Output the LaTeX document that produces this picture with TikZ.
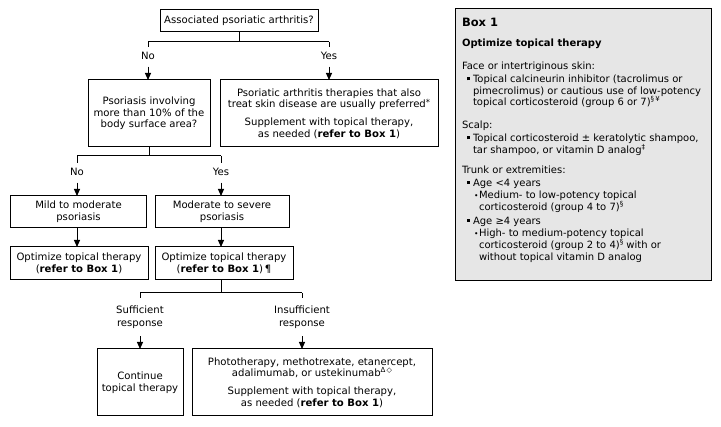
\documentclass[tikz,border=0pt]{standalone}
\usepackage{fontspec}
\setmainfont{DejaVu Sans}
\usetikzlibrary{arrows.meta}
\definecolor{boxgray}{HTML}{E6E6E6}
\newcommand{\supr}[1]{\raisebox{0.42em}{\fontsize{7}{7}\selectfont #1}}
\newcommand{\sqb}{\rule[2.5pt]{3pt}{3pt}}
\newcommand{\dotb}{\raisebox{0.8pt}{\fontsize{7.5}{7.5}\selectfont •}}
\begin{document}
\begin{tikzpicture}[x=1pt,y=-1pt,line width=1pt,
  box/.style={draw,inner sep=0pt,outer sep=0pt,align=center,font=\fontsize{10.1}{11.6}\selectfont},
  lbl/.style={inner xsep=2pt,inner ysep=5pt,outer sep=0pt,align=center,text height=7.5pt,text depth=2pt,font=\fontsize{10.1}{12}\selectfont},
  lbltwo/.style={inner xsep=2pt,inner ysep=8pt,outer sep=0pt,align=center,font=\fontsize{10.1}{12.5}\selectfont},
  arr/.style={-{Triangle[width=6pt,length=7pt]}},
  txt/.style={anchor=base west,inner sep=0pt,outer sep=0pt,font=\fontsize{10}{11.5}\selectfont}]
\useasboundingbox (0,0) rectangle (721,427);

% flowchart boxes
\node[box,minimum width=158pt,minimum height=22pt] (q1) at (239,21) {Associated psoriatic arthritis?};
\node[box,minimum width=122pt,minimum height=67pt] (q2) at (149,113.5) {Psoriasis involving\\more than 10\% of the\\body surface area?};
\node[box,minimum width=218pt,minimum height=67pt] (psa) at (329,113.5) {Psoriatic arthritis therapies that also\\treat skin disease are usually preferred\raisebox{0.25em}{\fontsize{8.5}{8.5}\selectfont *}\\[6pt]Supplement with topical therapy,\\as needed (\textbf{refer to Box 1})};
\node[box,minimum width=136pt,minimum height=32pt] (mild) at (78.5,212) {Mild to moderate\\psoriasis};
\node[box,minimum width=134pt,minimum height=32pt] (mod) at (222,212) {Moderate to severe\\psoriasis};
\node[box,minimum width=138pt,minimum height=33pt] (opt1) at (79,263.5) {Optimize topical therapy\\(\textbf{refer to Box 1})};
\node[box,minimum width=138pt,minimum height=33pt] (opt2) at (224,263.5) {Optimize topical therapy\\(\textbf{refer to Box 1})\,¶};
\node[box,minimum width=86pt,minimum height=67pt] (cont) at (140,382.5) {Continue\\topical therapy};
\node[box,minimum width=240pt,minimum height=67pt] (photo) at (312,382.5) {Phototherapy, methotrexate, etanercept,\\adalimumab, or ustekinumab\supr{Δ\,◇}\\[6pt]Supplement with topical therapy,\\as needed (\textbf{refer to Box 1})};

% first split
\coordinate (j1) at (239,42);
\coordinate (j1l) at (148,42);
\coordinate (j1r) at (329,42);
\draw (q1.south) -- (j1) (j1l) -- (j1r);
\node[lbl] (no1) at (148,57) {No};
\node[lbl] (yes1) at (329,57) {Yes};
\draw (j1l) -- (no1.north);
\draw (j1r) -- (yes1.north);
\draw[arr] (no1.south) -- (no1.south |- q2.north);
\draw[arr] (yes1.south) -- (yes1.south |- psa.north);

% second split
\coordinate (j2) at (149,156);
\coordinate (j2l) at (77,156);
\coordinate (j2r) at (221,156);
\draw (q2.south) -- (j2) (j2l) -- (j2r);
\node[lbl] (no2) at (77,173) {No};
\node[lbl] (yes2) at (221,173) {Yes};
\draw (j2l) -- (no2.north);
\draw (j2r) -- (yes2.north);
\draw[arr] (no2.south) -- (no2.south |- mild.north);
\draw[arr] (yes2.south) -- (yes2.south |- mod.north);
\draw[arr] (mild.south -| no2.south) -- (no2.south |- opt1.north);
\draw[arr] (mod.south -| yes2.south) -- (yes2.south |- opt2.north);

% third split
\coordinate (j3) at (221,293);
\coordinate (j3l) at (140,293);
\coordinate (j3r) at (302,293);
\draw (opt2.south -| j3) -- (j3) (j3l) -- (j3r);
\node[lbltwo] (suf) at (140,317) {Sufficient\\response};
\node[lbltwo] (ins) at (302,317) {Insufficient\\response};
\draw (j3l) -- (suf.north);
\draw (j3r) -- (ins.north);
\draw[arr] (suf.south) -- (suf.south |- cont.north);
\draw[arr] (ins.south) -- (ins.south |- photo.north);

% Box 1
\node[draw,fill=boxgray,inner sep=0pt,outer sep=0pt,minimum width=256pt,minimum height=272pt] (box1) at (583,145) {};
\node[txt,font=\fontsize{11.5}{12}\selectfont\bfseries] (t0) at (462,27) {Box 1};
\node[txt,font=\fontsize{10}{11.5}\selectfont\bfseries] (t1) at (462,47) {Optimize topical therapy};
\node[txt] (t2) at (462,70) {Face or intertriginous skin:};
\node[txt] (b1) at (467,83) {\sqb};
\node[txt] (t3) at (473,83) {Topical calcineurin inhibitor (tacrolimus or};
\node[txt] (t4) at (473,94.5) {pimecrolimus) or cautious use of low-potency};
\node[txt] (t5) at (473,106) {topical corticosteroid (group 6 or 7)\supr{§\,¥}};
\node[txt] (t6) at (462,129) {Scalp:};
\node[txt] (b2) at (467,142) {\sqb};
\node[txt] (t7) at (473,142) {Topical corticosteroid ± keratolytic shampoo,};
\node[txt] (t8) at (473,153.5) {tar shampoo, or vitamin D analog\supr{‡}};
\node[txt] (t9) at (462,174) {Trunk or extremities:};
\node[txt] (b3) at (467,186.5) {\sqb};
\node[txt] (t10) at (473,186.5) {Age <4 years};
\node[txt] (d1) at (474,199) {\dotb};
\node[txt] (t11) at (479,199) {Medium- to low-potency topical};
\node[txt] (t12) at (479,210.5) {corticosteroid (group 4 to 7)\supr{§}};
\node[txt] (b4) at (467,224.5) {\sqb};
\node[txt] (t13) at (473,224.5) {Age ≥4 years};
\node[txt] (d2) at (474,237) {\dotb};
\node[txt] (t14) at (479,237) {High- to medium-potency topical};
\node[txt] (t15) at (479,249) {corticosteroid (group 2 to 4)\supr{§} with or};
\node[txt] (t16) at (479,260.5) {without topical vitamin D analog};
\end{tikzpicture}
\end{document}
